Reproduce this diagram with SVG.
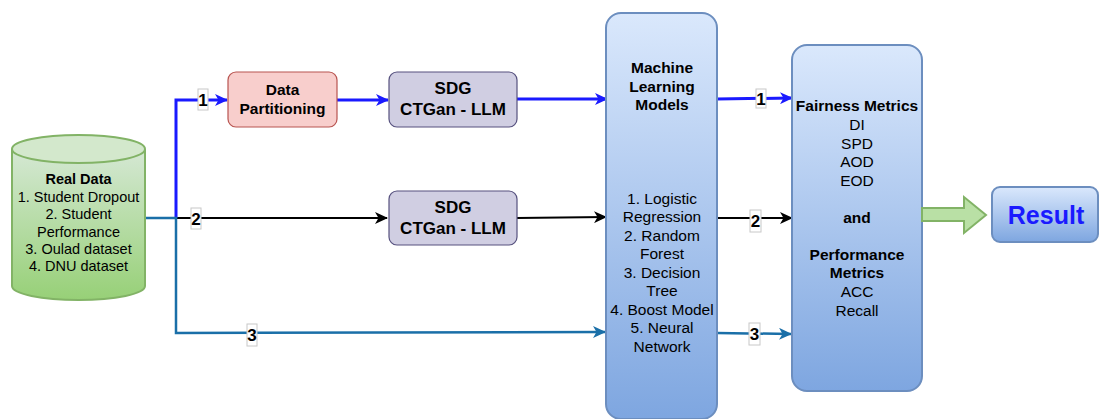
<svg xmlns="http://www.w3.org/2000/svg" width="1099" height="419" viewBox="0 0 1099 419">
<defs>
<linearGradient id="gBlue" x1="0" y1="0" x2="0" y2="1"><stop offset="0" stop-color="#dae8fc"/><stop offset="1" stop-color="#7ea6e0"/></linearGradient>
<linearGradient id="gGreen" x1="0" y1="0" x2="0" y2="1"><stop offset="0" stop-color="#d5e8d4"/><stop offset="1" stop-color="#97d077"/></linearGradient>
<marker id="aBlue" markerWidth="13" markerHeight="12" refX="12" refY="6" orient="auto" markerUnits="userSpaceOnUse" viewBox="0 0 13 12"><path d="M0,0 L13,6 L0,12 L3.5,6 Z" fill="#1a1aff"/></marker>
<marker id="aBlack" markerWidth="13" markerHeight="12" refX="12" refY="6" orient="auto" markerUnits="userSpaceOnUse" viewBox="0 0 13 12"><path d="M0,0 L13,6 L0,12 L3.5,6 Z" fill="#000"/></marker>
<marker id="aSteel" markerWidth="13" markerHeight="12" refX="12" refY="6" orient="auto" markerUnits="userSpaceOnUse" viewBox="0 0 13 12"><path d="M0,0 L13,6 L0,12 L3.5,6 Z" fill="#1a6fa8"/></marker>
</defs>
<style>
text{font-family:"Liberation Sans",Arial,sans-serif;text-anchor:middle;fill:#000}
.b{font-weight:bold}
.t15{font-size:15.5px}
.t14{font-size:14.5px}
.t17{font-size:17px}
.lbl rect{fill:#fff;stroke:#c8c8c8;stroke-width:1}
.lbl text{font-size:17px;font-weight:bold}
.e{fill:none;stroke-linejoin:miter}
.blue{stroke:#1a1aff;stroke-width:3}
.black{stroke:#000;stroke-width:2}
.steel{stroke:#1a6fa8;stroke-width:2.5}
</style>
<rect width="1099" height="419" fill="#fff"/>

<g id="connectors">
<path class="e black" d="M176,218 L387,218" marker-end="url(#aBlack)"/>
<path class="e blue" d="M176,218 L176,100 L227,100" marker-end="url(#aBlue)"/>
<path class="e steel" d="M145,218 L176,218 L176,333 L605,332" marker-end="url(#aSteel)"/>
<path class="e blue" d="M337,100 L388,100" marker-end="url(#aBlue)"/>
<path class="e blue" d="M517,99 L607,99" marker-end="url(#aBlue)"/>
<path class="e black" d="M517,218 L606,217" marker-end="url(#aBlack)"/>
<path class="e blue" d="M717,99 L792,98" marker-end="url(#aBlue)"/>
<path class="e black" d="M717,218 L792,218" marker-end="url(#aBlack)"/>
<path class="e steel" d="M717,333 L791,334" marker-end="url(#aSteel)"/>
<g class="lbl"><rect x="198" y="89" width="10" height="21"/><text x="203" y="106">1</text></g>
<g class="lbl"><rect x="191" y="208" width="10" height="21"/><text x="196" y="225">2</text></g>
<g class="lbl"><rect x="247" y="324" width="10" height="22"/><text x="252" y="341">3</text></g>
<g class="lbl"><rect x="756" y="89" width="10" height="19"/><text x="761" y="105">1</text></g>
<g class="lbl"><rect x="750" y="210" width="11" height="22"/><text x="755.5" y="227">2</text></g>
<g class="lbl"><rect x="749" y="323" width="11" height="22"/><text x="754.5" y="340">3</text></g>
</g>

<g id="real-data">
<path d="M12,149 L12,286 A66.5,14 0 0 0 145,286 L145,149" fill="url(#gGreen)" stroke="#82b366" stroke-width="2"/>
<ellipse cx="78.5" cy="149" rx="66.5" ry="14" fill="#d3e8cc" stroke="#82b366" stroke-width="2"/>
<text class="t14 b" x="78.5" y="184">Real Data</text>
<text class="t14" x="78.5" y="202">1. Student Dropout</text>
<text class="t14" x="78.5" y="219">2. Student</text>
<text class="t14" x="78.5" y="237">Performance</text>
<text class="t14" x="78.5" y="254">3. Oulad dataset</text>
<text class="t14" x="78.5" y="271">4. DNU dataset</text>
</g>

<g id="data-partitioning">
<rect x="228" y="72" width="109" height="55" rx="8" fill="#f8cecc" stroke="#b85450" stroke-width="1.2"/>
<text class="t15 b" x="282.5" y="95">Data</text>
<text class="t15 b" x="282.5" y="114">Partitioning</text>
</g>

<g id="sdg-1">
<rect x="389" y="72" width="128" height="55" rx="8" fill="#d0cee2" stroke="#56517e" stroke-width="1.2"/>
<text class="t17 b" x="453" y="94">SDG</text>
<text class="t17 b" x="453" y="115">CTGan - LLM</text>
</g>

<g id="sdg-2">
<rect x="389" y="191" width="128" height="54" rx="8" fill="#d0cee2" stroke="#56517e" stroke-width="1.2"/>
<text class="t17 b" x="453" y="213">SDG</text>
<text class="t17 b" x="453" y="234">CTGan - LLM</text>
</g>

<g id="ml-models">
<rect x="606" y="13" width="111" height="406" rx="15" fill="url(#gBlue)" stroke="#6c8ebf" stroke-width="2"/>
<text class="t15 b" x="662" y="73">Machine</text>
<text class="t15 b" x="662" y="92">Learning</text>
<text class="t15 b" x="662" y="110">Models</text>
<text class="t15" x="662" y="204">1. Logistic</text>
<text class="t15" x="662" y="222">Regression</text>
<text class="t15" x="662" y="241">2. Random</text>
<text class="t15" x="662" y="259">Forest</text>
<text class="t15" x="662" y="278">3. Decision</text>
<text class="t15" x="662" y="296">Tree</text>
<text class="t15" x="662" y="315">4. Boost Model</text>
<text class="t15" x="662" y="333">5. Neural</text>
<text class="t15" x="662" y="352">Network</text>
</g>

<g id="metrics">
<rect x="792" y="45" width="130" height="346" rx="15" fill="url(#gBlue)" stroke="#6c8ebf" stroke-width="2"/>
<text class="t15 b" x="857" y="111">Fairness Metrics</text>
<text class="t15" x="857" y="130">DI</text>
<text class="t15" x="857" y="149">SPD</text>
<text class="t15" x="857" y="167">AOD</text>
<text class="t15" x="857" y="186">EOD</text>
<text class="t15 b" x="857" y="223">and</text>
<text class="t15 b" x="857" y="260">Performance</text>
<text class="t15 b" x="857" y="278">Metrics</text>
<text class="t15" x="857" y="297">ACC</text>
<text class="t15" x="857" y="316">Recall</text>
</g>

<g id="block-arrow">
<path d="M922,208 L964,208 L964,197 L986,215 L964,233 L964,221 L922,221 Z" fill="#b9e0a5" stroke="#82b366" stroke-width="2"/>
</g>

<g id="result">
<rect x="992" y="187" width="106" height="55" rx="8" fill="url(#gBlue)" stroke="#6c8ebf" stroke-width="2"/>
<text class="b" x="1046" y="224" style="font-size:25px;fill:#1a1aff">Result</text>
</g>
</svg>
